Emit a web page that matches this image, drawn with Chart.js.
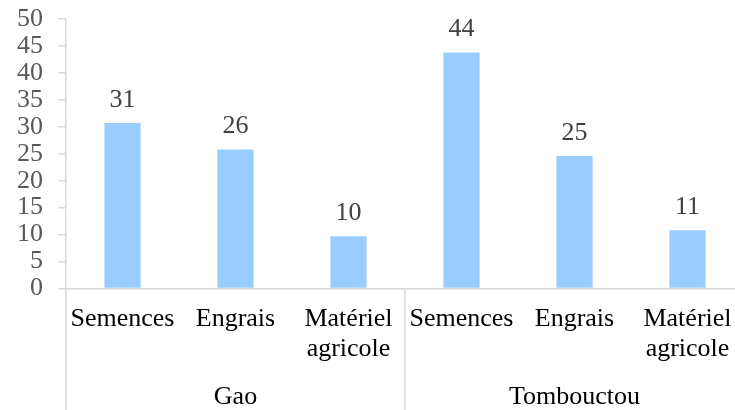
<!DOCTYPE html>
<html>
<head>
<meta charset="utf-8">
<script src="https://cdn.jsdelivr.net/npm/chart.js@4.4.1/dist/chart.umd.min.js"></script>
<style>
    html, body { margin: 0; padding: 0; overflow: hidden; background: #fff; }
    #wrap { width: 750px; height: 410px; }
</style>
</head>
<body>
<div id="wrap"><canvas id="chart"></canvas></div>
<script>
const groups = ['Gao', 'Tombouctou'];
const items = ['Semences', 'Engrais', ['Matériel', 'agricole']];
const categories = [...items, ...items];
const values = [30.7, 25.8, 9.7, 43.8, 24.6, 10.8];
const yMin = 0, yMax = 50, yStep = 5;

const font = 'Liberation Serif';
const lineColor = '#d9d9d9';

// value labels above each bar
const barLabels = {
    id: 'barLabels',
    afterDatasetsDraw(chart) {
        const ctx = chart.ctx;
        const meta = chart.getDatasetMeta(0);
        ctx.save();
        ctx.font = '26px "' + font + '"';
        ctx.fillStyle = '#404040';
        ctx.textAlign = 'center';
        ctx.textBaseline = 'alphabetic';
        meta.data.forEach((bar, i) => {
            ctx.fillText(values[i].toFixed(0), bar.x, bar.y - 16);
        });
        ctx.restore();
    }
};

// group separators below the plot
const groupLines = {
    id: 'groupLines',
    afterDraw(chart) {
        const ctx = chart.ctx;
        const x = chart.scales.x;
        const bottom = chart.chartArea.bottom;
        const mid = (x.getPixelForValue(2) + x.getPixelForValue(3)) / 2;
        ctx.save();
        ctx.strokeStyle = lineColor;
        ctx.lineWidth = 1.5;
        [x.left, mid, x.right].forEach(px => {
            ctx.beginPath();
            ctx.moveTo(px, bottom);
            ctx.lineTo(px, chart.height);
            ctx.stroke();
        });
        ctx.restore();
    }
};

new Chart(document.querySelector('#chart'), {
    type: 'bar',
    data: {
        labels: categories,
        datasets: [{
            data: values,
            backgroundColor: '#99ccff',
            barPercentage: 0.32,
            categoryPercentage: 1
        }]
    },
    options: {
        responsive: true,
        maintainAspectRatio: false,
        animation: false,
        layout: { padding: { left: 2, top: 0, right: 6, bottom: 0 } },
        plugins: { legend: { display: false }, tooltip: { enabled: false } },
        scales: {
            y: {
                min: yMin,
                max: yMax,
                afterFit(s) { s.paddingTop = 19; s.paddingBottom = 0; },
                ticks: {
                    stepSize: yStep,
                    autoSkip: false,
                    padding: 15,
                    color: '#595959',
                    font: { family: font, size: 26 }
                },
                grid: { drawOnChartArea: false, tickLength: 8, color: lineColor, lineWidth: 1.5 },
                border: { color: lineColor, width: 1.5 }
            },
            x: {
                afterFit(s) { s.height = 76; s.paddingLeft = 0; s.paddingRight = 0; },
                ticks: {
                    padding: 16,
                    color: '#000',
                    maxRotation: 0,
                    autoSkip: false,
                    font: { family: font, size: 26, lineHeight: 1.15 }
                },
                grid: { display: false, drawTicks: false },
                border: { color: lineColor, width: 1.5 }
            },
            x2: {
                type: 'category',
                position: 'bottom',
                labels: groups,
                offset: true,
                afterFit(s) { s.height = 45.5; s.paddingLeft = 0; s.paddingRight = 0; },
                ticks: {
                    padding: 19.5,
                    color: '#000',
                    font: { family: font, size: 26, lineHeight: 1 }
                },
                grid: { display: false, drawTicks: false },
                border: { display: false }
            }
        }
    },
    plugins: [barLabels, groupLines]
});
</script>
</body>
</html>
